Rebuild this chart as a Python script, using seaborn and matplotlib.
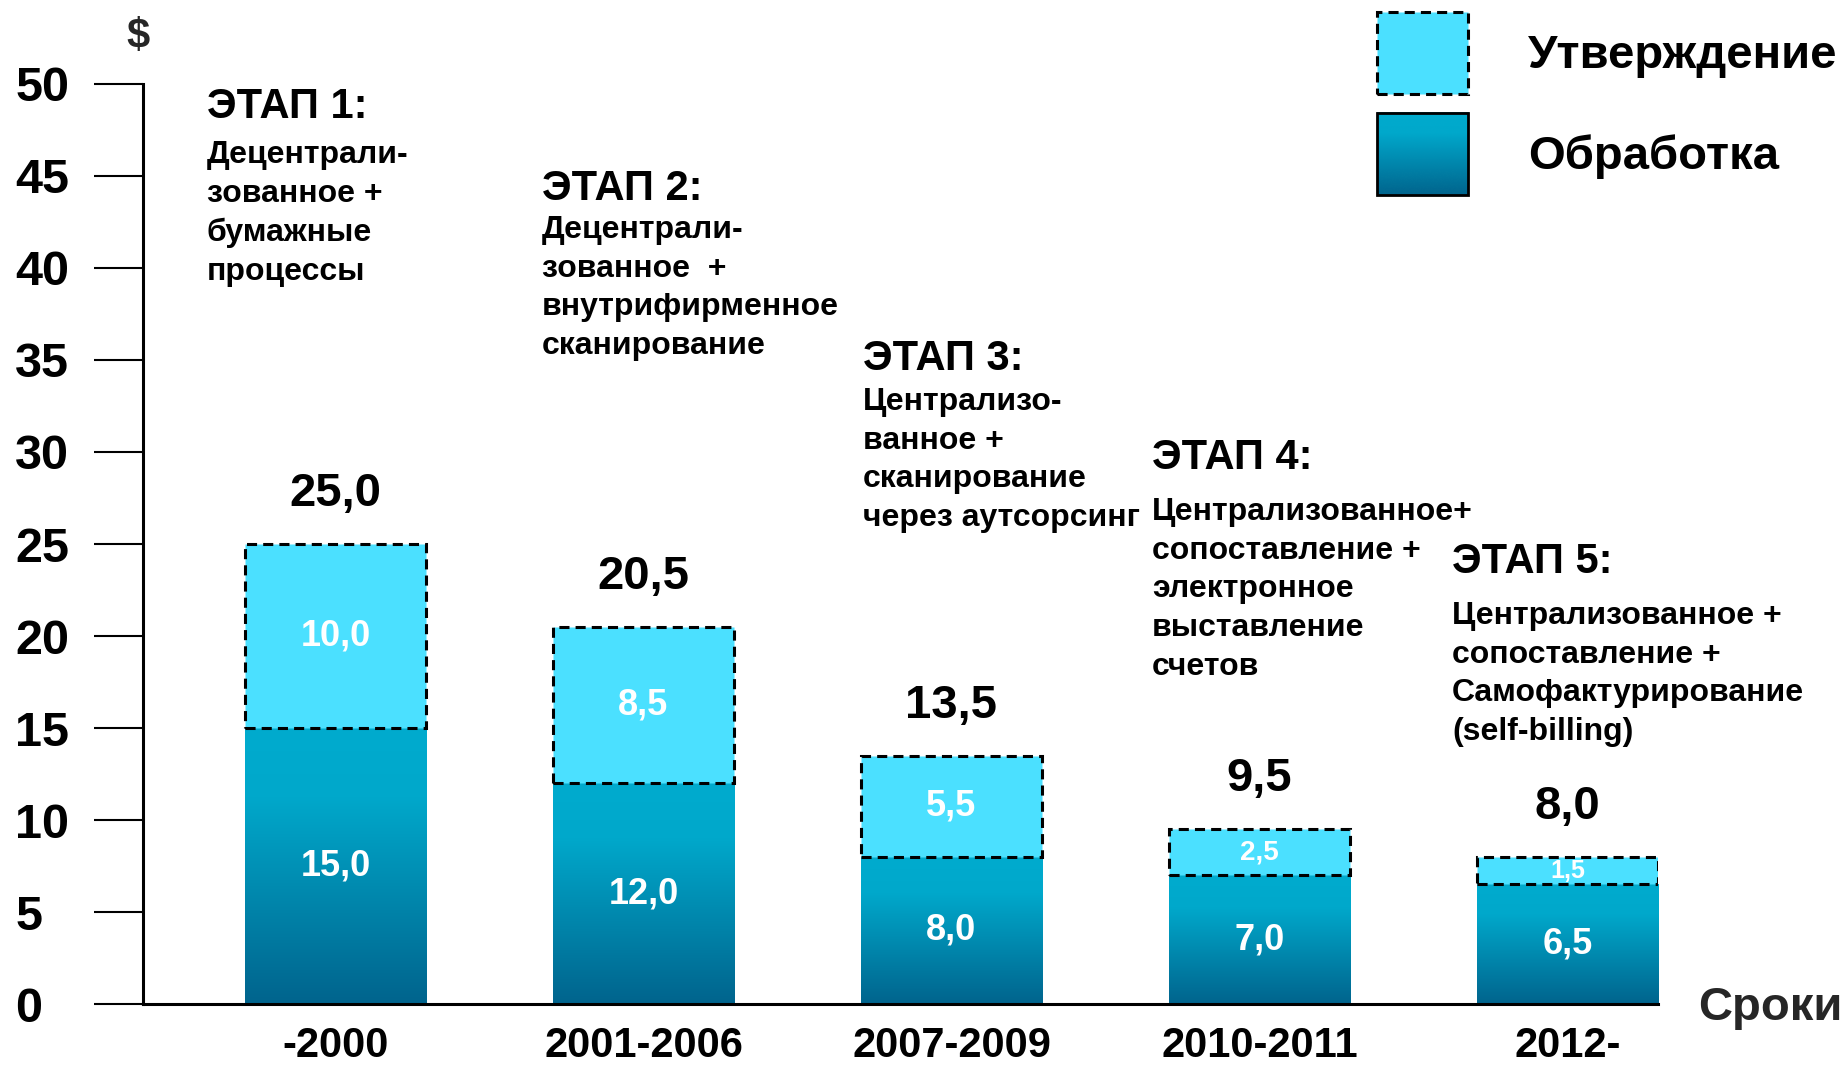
import numpy as np
import pandas as pd
import matplotlib
matplotlib.use("Agg")
import matplotlib.pyplot as plt
import seaborn as sns
from matplotlib.colors import LinearSegmentedColormap
from matplotlib.patches import Patch, Rectangle
from matplotlib.legend_handler import HandlerBase
from matplotlib.image import BboxImage
from matplotlib.transforms import Bbox, TransformedBbox

# ----------------------------------------------------
# 1. Данные
# ----------------------------------------------------
periods = ["-2000", "2001-2006", "2007-2009", "2010-2011", "2012-"]
processing = [15.0, 12.0, 8.0, 7.0, 6.5]   # Обработка
approval = [10.0, 8.5, 5.5, 2.5, 1.5]      # Утверждение
totals = [25.0, 20.5, 13.5, 9.5, 8.0]
y_ticks = [0, 5, 10, 15, 20, 25, 30, 35, 40, 45, 50]

stage_titles = ["ЭТАП 1:", "ЭТАП 2:", "ЭТАП 3:", "ЭТАП 4:", "ЭТАП 5:"]
stage_texts = [
    "Децентрали-\nзованное +\nбумажные\nпроцессы",
    "Децентрали-\nзованное  +\nвнутрифирменное\nсканирование",
    "Централизо-\nванное +\nсканирование\nчерез аутсорсинг",
    "Централизованное+\nсопоставление +\nэлектронное\nвыставление\nсчетов",
    "Централизованное +\nсопоставление +\nСамофактурирование\n(self-billing)",
]

# ----------------------------------------------------
# 2. Оформление
# ----------------------------------------------------
W, H = 1849, 1066
CYAN = "#4BE0FF"
DASH = (0, (3.3, 2))
proc_cmap = LinearSegmentedColormap.from_list(
    "proc", [(0.0, "#00648D"), (0.45, "#008DB2"), (0.75, "#00A8CB"), (1.0, "#00ABCE")])

# (x, центр заголовка, верх описания) в пикселях картинки
stage_pos = [(207, 107, 140), (542, 189, 215), (863, 359, 387),
             (1152, 458, 497), (1452, 562, 601)]


def fx(px):
    return px / W


def fy(py):
    return 1 - py / H


def fmt(v):
    return f"{v:.1f}".replace(".", ",")


class GradientHandler(HandlerBase):
    """Квадрат легенды с вертикальным градиентом."""
    def create_artists(self, legend, orig_handle, xdescent, ydescent,
                       width, height, fontsize, trans):
        bb = TransformedBbox(Bbox.from_bounds(-xdescent, -ydescent, width, height), trans)
        img = BboxImage(bb, cmap=proc_cmap, interpolation="bicubic", origin="lower")
        img.set_data(np.linspace(0, 1, 256).reshape(-1, 1))
        frame = Rectangle((-xdescent, -ydescent), width, height, transform=trans,
                          facecolor="none", edgecolor="black", linewidth=2)
        return [img, frame]


sns.set_style("white")
plt.rcParams["font.family"] = ["Liberation Sans", "DejaVu Sans"]
plt.rcParams["font.weight"] = "bold"
plt.rcParams["text.color"] = "black"

df = pd.DataFrame({"period": periods, "processing": processing, "approval": approval})

fig = plt.figure(figsize=(W / 100, H / 100), dpi=100)
ax = fig.add_axes([fx(143), fy(1004), (1658 - 143) / W, (1004 - 84) / H])

sns.barplot(data=df, x="period", y="processing", order=periods, color="#0090B5",
            width=0.588, saturation=1, errorbar=None, linewidth=0, ax=ax)
sns.barplot(data=df, x="period", y="approval", order=periods, color=CYAN,
            width=0.588, saturation=1, errorbar=None, ax=ax,
            bottom=df["processing"].values, edgecolor="black",
            linewidth=2.2, linestyle=DASH)

proc_bars, appr_bars = ax.containers[0], ax.containers[1]

# градиент в нижних сегментах
grad = np.linspace(0, 1, 256).reshape(-1, 1)
for p in proc_bars:
    x0, y0, w, h = p.get_x(), p.get_y(), p.get_width(), p.get_height()
    im = ax.imshow(grad, cmap=proc_cmap, extent=(x0, x0 + w, y0, y0 + h),
                   origin="lower", aspect="auto", interpolation="bicubic", zorder=2)
    im.set_clip_path(p)
for p in appr_bars:
    p.set_zorder(2.5)

ax.set_xlim(-0.625, 4.294)
ax.set_ylim(0, 50)
ax.set_yticks(y_ticks)

# подписи сегментов
ax.bar_label(proc_bars, labels=[fmt(v) for v in processing], label_type="center",
             color="white", fontsize=26, fontweight="bold")
lbl = ax.bar_label(appr_bars, labels=[fmt(v) for v in approval], label_type="center",
                   color="white", fontsize=26, fontweight="bold")
for t, v in zip(lbl, approval):
    if v < 2:
        t.set_fontsize(18)
    elif v < 3:
        t.set_fontsize(20)
# итоги над столбцами
ax.bar_label(appr_bars, labels=[fmt(v) for v in totals], padding=20,
             fontsize=34, fontweight="bold", color="black")

# оси
sns.despine(ax=ax)
for s in ("left", "bottom"):
    ax.spines[s].set_color("black")
    ax.spines[s].set_linewidth(2.2)
ax.tick_params(axis="y", left=True, length=35, width=1.5, pad=57,
               labelsize=35, colors="black")
ax.tick_params(axis="x", bottom=False, length=0, pad=16, labelsize=30, colors="black")
plt.setp(ax.get_yticklabels(), ha="left")

ax.set_xlabel("Сроки", fontsize=34, fontweight="bold", ha="left", va="center")
ax.xaxis.set_label_coords(1.0264, -0.004)
ax.set_ylabel("$", fontsize=30, fontweight="bold", rotation=0, ha="center", va="center")
ax.yaxis.set_label_coords(-0.003, 1.051)

# этапы
for (x, hc, dt), title, txt in zip(stage_pos, stage_titles, stage_texts):
    fig.text(fx(x), fy(hc), title, fontsize=30, fontweight="bold", ha="left", va="center")
    fig.text(fx(x), fy(dt), txt, fontsize=23, fontweight="bold", ha="left", va="top",
             linespacing=1.38)

# легенда
h_appr = Patch(facecolor=CYAN, edgecolor="black", linewidth=2.2, linestyle=DASH)
h_proc = Patch(facecolor="#0090B5")
fig.legend([h_appr, h_proc], ["Утверждение", "Обработка"],
           handler_map={h_proc: GradientHandler()},
           loc="upper left", bbox_to_anchor=(fx(1377), fy(12)), bbox_transform=fig.transFigure,
           frameon=False, prop={"weight": "bold", "size": 34},
           handlelength=1.93, handleheight=2.295, handletextpad=1.27,
           labelspacing=0.40, borderpad=0, borderaxespad=0)

fig.savefig("out.png", dpi=100)
